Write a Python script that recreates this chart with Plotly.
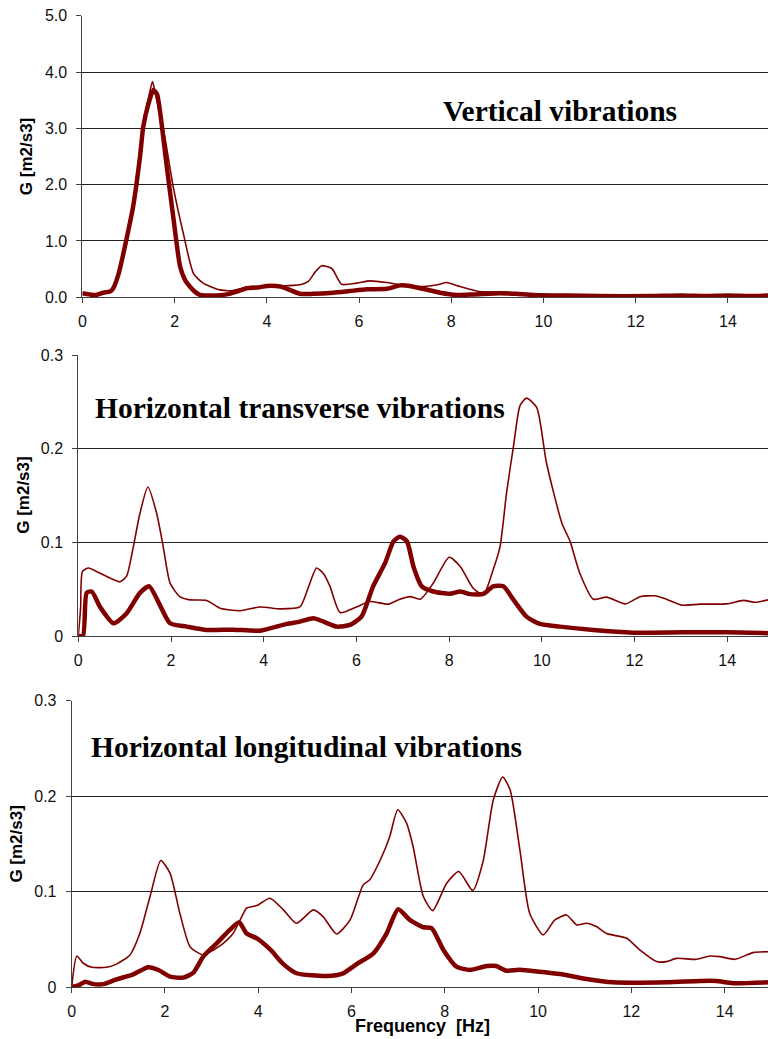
import plotly.graph_objects as go

# ---------------- data ----------------
vert_thin_x = [0, 0.3, 0.6, 0.67, 0.89, 1.10, 1.25, 1.35, 1.45, 1.52, 1.6, 1.76, 1.97, 2.19, 2.41, 2.62, 2.98, 3.27, 3.6, 4.0, 4.3, 4.72, 4.9, 5.05, 5.19, 5.41, 5.62, 5.95, 6.24, 6.6, 6.89, 7.39, 7.7, 7.9, 8.19, 8.62, 9.2, 9.78, 10.5, 11.5, 12.5, 13.5, 14.5, 14.9]
vert_thin_y = [0.07, 0.04, 0.1, 0.16, 0.78, 1.61, 2.5, 3.2, 3.6, 3.83, 3.55, 2.97, 1.96, 1.13, 0.42, 0.25, 0.13, 0.12, 0.18, 0.2, 0.2, 0.22, 0.28, 0.45, 0.56, 0.51, 0.23, 0.25, 0.29, 0.26, 0.22, 0.19, 0.22, 0.26, 0.19, 0.1, 0.09, 0.04, 0.03, 0.03, 0.03, 0.03, 0.03, 0.03]

vert_thick_x = [0, 0.15, 0.3, 0.45, 0.6, 0.67, 0.78, 0.89, 1.0, 1.10, 1.25, 1.32, 1.42, 1.54, 1.62, 1.68, 1.83, 1.97, 2.12, 2.23, 2.33, 2.45, 2.55, 2.8, 3.13, 3.35, 3.56, 3.8, 4.0, 4.29, 4.5, 4.72, 5.0, 5.44, 5.8, 6.17, 6.6, 6.89, 7.1, 7.32, 7.55, 7.76, 8.12, 8.5, 9.06, 9.4, 9.78, 10.5, 11.2, 12.3, 13.0, 13.5, 14.0, 14.5, 14.9]
vert_thick_y = [0.07, 0.05, 0.04, 0.08, 0.1, 0.16, 0.4, 0.78, 1.2, 1.61, 2.5, 3.03, 3.4, 3.68, 3.6, 3.32, 2.32, 1.43, 0.54, 0.3, 0.19, 0.09, 0.04, 0.03, 0.05, 0.1, 0.16, 0.17, 0.2, 0.19, 0.13, 0.06, 0.06, 0.08, 0.11, 0.14, 0.15, 0.21, 0.2, 0.16, 0.12, 0.08, 0.04, 0.05, 0.07, 0.06, 0.04, 0.03, 0.02, 0.02, 0.03, 0.02, 0.03, 0.02, 0.03]

trans_thin_x = [0, 0.05, 0.09, 0.22, 0.47, 0.68, 0.9, 1.04, 1.19, 1.33, 1.5, 1.69, 1.83, 1.98, 2.19, 2.41, 2.77, 3.06, 3.49, 3.92, 4.36, 4.78, 4.95, 5.14, 5.3, 5.43, 5.65, 6.0, 6.29, 6.69, 6.94, 7.16, 7.38, 7.66, 8.0, 8.24, 8.52, 8.74, 8.95, 9.1, 9.24, 9.39, 9.53, 9.67, 9.89, 10.1, 10.43, 10.61, 10.82, 11.11, 11.4, 11.8, 12.12, 12.44, 12.69, 13.02, 13.41, 13.99, 14.35, 14.6, 14.88]
trans_thin_y = [0, 0.03, 0.069, 0.0726, 0.067, 0.062, 0.058, 0.0636, 0.096, 0.131, 0.159, 0.131, 0.096, 0.0565, 0.042, 0.0386, 0.038, 0.0297, 0.027, 0.031, 0.029, 0.031, 0.05, 0.0726, 0.066, 0.053, 0.025, 0.031, 0.0368, 0.034, 0.0393, 0.042, 0.0393, 0.0565, 0.084, 0.0743, 0.051, 0.044, 0.0707, 0.0957, 0.153, 0.203, 0.246, 0.254, 0.244, 0.185, 0.121, 0.101, 0.067, 0.0393, 0.0415, 0.0343, 0.042, 0.0429, 0.0393, 0.033, 0.034, 0.0343, 0.038, 0.036, 0.0386]

trans_thick_x = [0, 0.1, 0.18, 0.29, 0.47, 0.76, 1.04, 1.33, 1.53, 1.76, 1.98, 2.34, 2.77, 3.35, 3.92, 4.5, 4.78, 5.07, 5.29, 5.58, 5.86, 6.11, 6.36, 6.62, 6.8, 6.94, 7.09, 7.23, 7.41, 7.66, 8.02, 8.24, 8.45, 8.74, 8.95, 9.17, 9.39, 9.67, 9.96, 10.39, 11.11, 11.97, 13.05, 13.99, 14.88]
trans_thick_y = [0, 0, 0.046, 0.0475, 0.031, 0.0136, 0.024, 0.046, 0.053, 0.033, 0.0136, 0.01, 0.0064, 0.0068, 0.0057, 0.0129, 0.0153, 0.019, 0.0153, 0.01, 0.0118, 0.0207, 0.053, 0.078, 0.101, 0.106, 0.101, 0.0743, 0.053, 0.0475, 0.045, 0.0475, 0.0447, 0.045, 0.053, 0.053, 0.0386, 0.0207, 0.0129, 0.01, 0.0064, 0.0036, 0.004, 0.004, 0.003]

long_thin_x = [0, 0.11, 0.25, 0.43, 0.75, 0.96, 1.25, 1.46, 1.68, 1.91, 2.11, 2.32, 2.54, 2.82, 3.04, 3.25, 3.46, 3.61, 3.75, 3.97, 4.25, 4.54, 4.82, 5.18, 5.39, 5.68, 5.97, 6.25, 6.39, 6.65, 6.82, 6.99, 7.18, 7.32, 7.54, 7.74, 8.04, 8.3, 8.6, 8.82, 9.04, 9.24, 9.4, 9.61, 9.82, 10.11, 10.36, 10.61, 10.83, 11.04, 11.25, 11.47, 11.9, 12.18, 12.54, 12.75, 12.97, 13.4, 13.68, 13.9, 14.22, 14.61, 14.93]
long_thin_y = [0, 0.0325, 0.0249, 0.0207, 0.0207, 0.024, 0.0336, 0.056, 0.0948, 0.1325, 0.119, 0.077, 0.042, 0.0336, 0.0388, 0.0458, 0.056, 0.07, 0.0826, 0.0853, 0.093, 0.0808, 0.0668, 0.0808, 0.0738, 0.0556, 0.0703, 0.107, 0.1123, 0.1367, 0.1577, 0.1857, 0.1717, 0.1472, 0.0948, 0.08, 0.1088, 0.121, 0.101, 0.1315, 0.196, 0.22, 0.2067, 0.1437, 0.0773, 0.0546, 0.0703, 0.0755, 0.065, 0.0668, 0.0633, 0.056, 0.051, 0.0388, 0.0266, 0.0266, 0.030, 0.029, 0.0325, 0.0318, 0.029, 0.036, 0.037]

long_thick_x = [0, 0.16, 0.29, 0.47, 0.68, 0.96, 1.32, 1.64, 1.86, 2.11, 2.39, 2.61, 2.82, 3.11, 3.39, 3.59, 3.75, 3.97, 4.25, 4.54, 4.82, 5.47, 5.82, 6.11, 6.47, 6.75, 7.0, 7.25, 7.54, 7.72, 7.97, 8.25, 8.54, 8.9, 9.1, 9.32, 9.6, 10.04, 10.47, 11.04, 11.61, 12.75, 13.47, 13.82, 14.18, 14.93]
long_thick_y = [0, 0.002, 0.0056, 0.003, 0.003, 0.008, 0.0133, 0.0207, 0.0178, 0.0108, 0.0098, 0.015, 0.0318, 0.0458, 0.0598, 0.0679, 0.056, 0.051, 0.0396, 0.024, 0.0144, 0.0115, 0.0143, 0.024, 0.0353, 0.056, 0.0815, 0.0703, 0.0626, 0.0615, 0.0388, 0.0213, 0.0178, 0.022, 0.022, 0.0171, 0.018, 0.016, 0.0136, 0.0084, 0.0049, 0.0049, 0.0063, 0.0063, 0.004, 0.005]

panel_titles = ["Vertical vibrations", "Horizontal transverse vibrations", "Horizontal longitudinal vibrations"]
y_title = "G [m2/s3]"
x_title = "Frequency  [Hz]"
x_ticks = [0, 2, 4, 6, 8, 10, 12, 14]
small_ticks = [0, 0.1, 0.2, 0.3]
small_tick_text = ["0", "0.1", "0.2", "0.3"]

# ---------------- layout helpers ----------------
W, H = 768, 1039
def px(x):
    return x / W
def py(y):
    return (H - y) / H

RED = "#800000"
AX = "#404040"
SANS = "Liberation Sans, Arial, sans-serif"
SERIF = "Liberation Serif, Times New Roman, serif"

fig = go.Figure()

series = [
    (vert_thin_x, vert_thin_y, vert_thick_x, vert_thick_y, "x", "y"),
    (trans_thin_x, trans_thin_y, trans_thick_x, trans_thick_y, "x2", "y2"),
    (long_thin_x, long_thin_y, long_thick_x, long_thick_y, "x3", "y3"),
]
for tx, ty, kx, ky, xa, ya in series:
    fig.add_trace(go.Scatter(x=tx, y=ty, mode="lines", xaxis=xa, yaxis=ya,
                             line=dict(color=RED, width=1.6, shape="spline", smoothing=0.6),
                             showlegend=False, hoverinfo="skip"))
    fig.add_trace(go.Scatter(x=kx, y=ky, mode="lines", xaxis=xa, yaxis=ya,
                             line=dict(color=RED, width=4.5, shape="spline", smoothing=0.6),
                             showlegend=False, hoverinfo="skip"))

# panel geometry (pixels): left, top(y at max), bottom(y at 0), xmax
panels = [
    (82.4, 15.7, 297.2, 14.87),
    (78.3, 355.0, 636.0, 14.88),
    (71.7, 700.7, 987.0, 14.93),
]

axis_common = dict(showline=True, linecolor=AX, linewidth=1, ticks="outside",
                   ticklen=5, tickcolor=AX, tickwidth=1, zeroline=False,
                   automargin=False,
                   tickfont=dict(family=SANS, size=16, color="#111"))

layout = dict(width=W, height=H, margin=dict(l=0, r=0, t=0, b=0, autoexpand=False),
              paper_bgcolor="white", plot_bgcolor="white", showlegend=False)

for i, (left, top, bottom, xmax) in enumerate(panels):
    sx = "" if i == 0 else str(i + 1)
    xa = dict(axis_common, domain=[px(left), 1.0], range=[0, xmax],
              tickvals=x_ticks, showgrid=False, anchor="y" + sx,
              ticklabelstandoff=5)
    ya = dict(axis_common, domain=[py(bottom), py(top)], anchor="x" + sx,
              showgrid=True, gridcolor="#222", gridwidth=1,
              ticklabelstandoff=6)
    if i == 0:
        ya.update(range=[0, 5], tickvals=[0, 1, 2, 3, 4, 5], tickformat=".1f")
    else:
        ya.update(range=[0, 0.3], tickvals=small_ticks, ticktext=small_tick_text)
    layout["xaxis" + sx] = xa
    layout["yaxis" + sx] = ya

fig.update_layout(**layout)

# panel titles
title_pos = [(559.8, 110.5), (300.0, 408.0), (306.5, 747.0)]
for t, (cx, cy) in zip(panel_titles, title_pos):
    fig.add_annotation(text="<b>" + t + "</b>", xref="paper", yref="paper",
                       x=px(cx), y=py(cy), xanchor="center", yanchor="middle",
                       showarrow=False, font=dict(family=SERIF, size=29.5, color="black"))

# y axis titles
ytitle_pos = [(26.7, 156.5), (23.3, 495.5), (16.7, 843.9)]
for cx, cy in ytitle_pos:
    fig.add_annotation(text="<b>" + y_title + "</b>", xref="paper", yref="paper",
                       x=px(cx), y=py(cy), xanchor="center", yanchor="middle",
                       textangle=-90, showarrow=False,
                       font=dict(family=SANS, size=17, color="black"))

# x axis title
fig.add_annotation(text="<b>" + x_title + "</b>", xref="paper", yref="paper",
                   x=px(422), y=py(1026), xanchor="center", yanchor="middle",
                   showarrow=False, font=dict(family=SANS, size=18, color="black"))

fig.write_html("out.html", config={"displayModeBar": False},
               post_script="document.body.style.margin='0px';document.body.style.overflow='hidden';")
